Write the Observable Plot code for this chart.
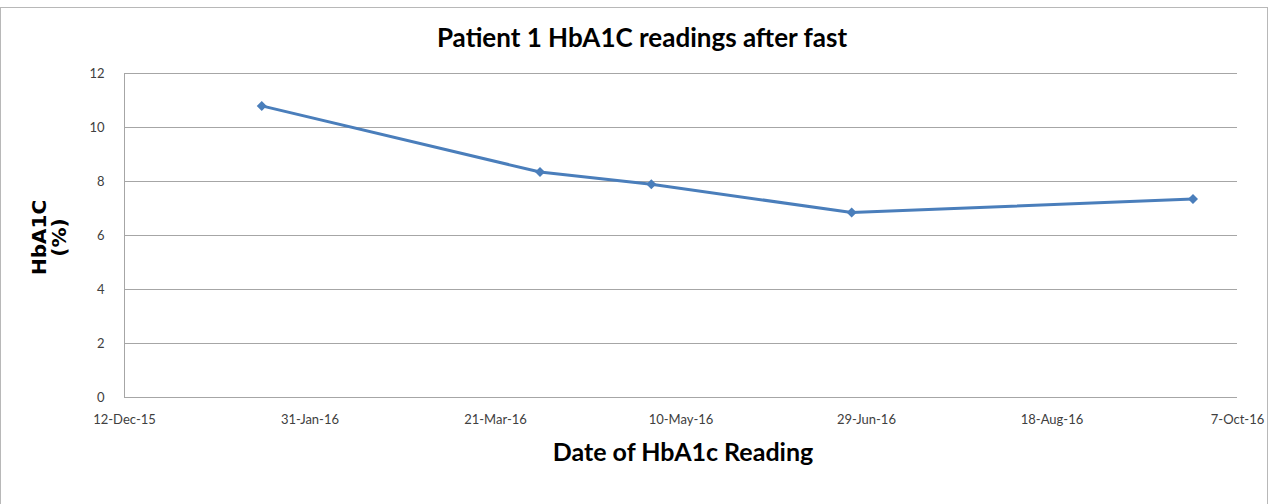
<!DOCTYPE html>
<html>
<head>
<meta charset="utf-8">
<script src="https://cdn.jsdelivr.net/npm/d3@7"></script>
<script src="https://cdn.jsdelivr.net/npm/@observablehq/plot@0.6"></script>
<style>
  html, body { margin: 0; padding: 0; background: #fff; }
  #wrap { position: relative; width: 1278px; height: 504px; overflow: hidden; }
  #border { position: absolute; left: 0; top: 7px; width: 1266px; height: 520px; border: 1px solid #b8b8b8; pointer-events: none; }
</style>
</head>
<body>
<div id="wrap"><div id="border"></div></div>
<script>
// Data
const readingDates = ["2016-01-18", "2016-04-02", "2016-05-02", "2016-06-25", "2016-09-25"];
const hba1cValues = [10.8, 8.35, 7.9, 6.85, 7.35];
const xTickDates = ["2015-12-12", "2016-01-31", "2016-03-21", "2016-05-10", "2016-06-29", "2016-08-18", "2016-10-07"];
const yTickValues = [0, 2, 4, 6, 8, 10, 12];
const titleText = "Patient 1 HbA1C readings after fast";
const xTitle = "Date of HbA1c Reading";
const yTitle = "HbA1C\n(%)";

const data = readingDates.map((d, i) => ({date: new Date(d), value: hba1cValues[i]}));
const xTicks = xTickDates.map(d => new Date(d));
const fmt = d3.utcFormat("%-d-%b-%y");

const chart = Plot.plot({
  width: 1278,
  height: 504,
  marginLeft: 124,
  marginRight: 41,
  marginTop: 73,
  marginBottom: 107,
  style: {fontFamily: "Lato", fontSize: "13px", color: "#404040", background: "transparent"},
  x: {type: "utc", domain: [xTicks[0], xTicks[xTicks.length - 1]], ticks: xTicks, tickFormat: fmt, tickSize: 0, tickPadding: 17, label: null},
  y: {domain: [0, 12], ticks: yTickValues, tickSize: 0, tickPadding: 20, label: null},
  marks: [
    Plot.gridY(yTickValues, {stroke: "#a6a6a6", strokeOpacity: 1, strokeWidth: 1}),
    Plot.ruleX([xTicks[0]], {stroke: "#a6a6a6", strokeWidth: 1}),
    Plot.line(data, {x: "date", y: "value", stroke: "#4a7ebb", strokeWidth: 3}),
    Plot.dot(data, {x: "date", y: "value", symbol: "square", rotate: 45, r: 4, fill: "#4a7ebb", stroke: "none"}),
    Plot.text([titleText], {text: d => d, frameAnchor: "top", lineAnchor: "middle", textAnchor: "middle", dx: -39, dy: -35, fontFamily: "Lato", fontWeight: "bold", fontSize: 26, fill: "#000"}),
    Plot.text([xTitle], {text: d => d, frameAnchor: "bottom", lineAnchor: "middle", textAnchor: "middle", dx: 2, dy: 55, fontFamily: "Lato", fontWeight: "bold", fontSize: 25, fill: "#000"}),
    Plot.text([yTitle], {text: d => d, frameAnchor: "left", lineAnchor: "middle", textAnchor: "middle", dx: -75, dy: 2, rotate: -90, lineHeight: 1.0, fontFamily: "DejaVu Sans", fontWeight: "bold", fontSize: 20, fill: "#000"})
  ]
});
document.getElementById("wrap").appendChild(chart);
chart.style.position = "absolute";
chart.style.left = "0";
chart.style.top = "0";
</script>
</body>
</html>
